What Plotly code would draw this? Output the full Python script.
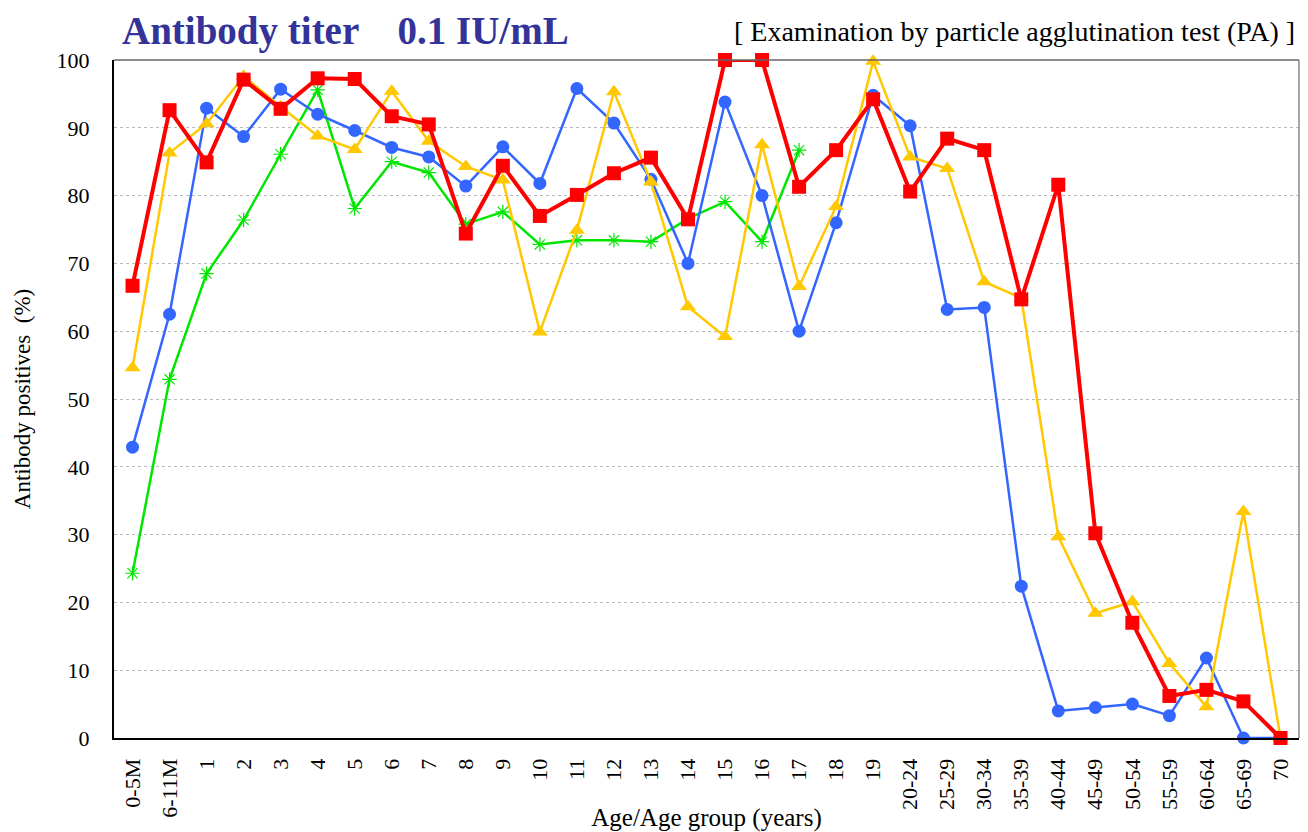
import plotly.graph_objects as go

categories = ["0-5M", "6-11M", "1", "2", "3", "4", "5", "6", "7", "8", "9", "10",
              "11", "12", "13", "14", "15", "16", "17", "18", "19",
              "20-24", "25-29", "30-34", "35-39", "40-44", "45-49", "50-54",
              "55-59", "60-64", "65-69", "70"]

series_green = [24.3, 52.9, 68.5, 76.4, 86.1, 95.6, 78.1, 85.0, 83.4, 75.8, 77.6,
                72.8, 73.4, 73.4, 73.2, 76.6, 79.1, 73.2, 86.7]

series_blue = [42.9, 62.5, 92.9, 88.7, 95.7, 92.0, 89.6, 87.1, 85.7, 81.4, 87.2,
               81.8, 95.8, 90.7, 82.4, 70.0, 93.8, 80.0, 60.0, 76.0, 94.8,
               90.3, 63.2, 63.5, 22.4, 4.0, 4.5, 5.0, 3.3, 11.8, 0.0, 0.0]

series_yellow = [54.6, 86.3, 90.6, 97.6, 93.1, 88.8, 86.8, 95.4, 88.0, 84.3, 82.3,
                 59.9, 74.9, 95.3, 82.0, 63.6, 59.2, 87.5, 66.6, 78.4, 99.8,
                 85.7, 84.0, 67.3, 64.9, 29.7, 18.4, 20.1, 11.0, 4.6, 33.4, 0.0]

series_red = [66.7, 92.6, 84.9, 97.1, 92.8, 97.3, 97.2, 91.7, 90.5, 74.4, 84.4,
              77.0, 80.1, 83.3, 85.6, 76.5, 100.0, 100.0, 81.3, 86.7, 94.2,
              80.6, 88.4, 86.7, 64.7, 81.6, 30.2, 17.0, 6.2, 7.1, 5.4, 0.0]

y_ticks = [0, 10, 20, 30, 40, 50, 60, 70, 80, 90, 100]

FONT = "Liberation Serif, Times New Roman, serif"

fig = go.Figure()

fig.add_trace(go.Scatter(
    x=categories[:len(series_green)], y=series_green, mode="lines+markers",
    name="Series A", line=dict(color="#00E600", width=2.5),
    marker=dict(symbol="asterisk-open", size=12, color="#00E600",
                line=dict(color="#66EE66", width=1.2)),
    cliponaxis=False))

fig.add_trace(go.Scatter(
    x=categories, y=series_blue, mode="lines+markers",
    name="Series B", line=dict(color="#3366FF", width=2.5),
    marker=dict(symbol="circle", size=13, color="#3366FF"),
    cliponaxis=False))

fig.add_trace(go.Scatter(
    x=categories, y=series_yellow, mode="lines+markers",
    name="Series C", line=dict(color="#FFC800", width=2.5),
    marker=dict(symbol="triangle-up", size=14, color="#FFC800"),
    cliponaxis=False))

fig.add_trace(go.Scatter(
    x=categories, y=series_red, mode="lines+markers",
    name="Series D", line=dict(color="#FF0000", width=4),
    marker=dict(symbol="square", size=14, color="#FF0000"),
    cliponaxis=False))

fig.update_layout(
    width=1300, height=824,
    margin=dict(l=106, r=9, t=52, b=94, autoexpand=False),
    paper_bgcolor="white", plot_bgcolor="white",
    showlegend=False,
    font=dict(family=FONT, color="black", size=22),
    xaxis=dict(
        type="category", categoryorder="array", categoryarray=categories,
        range=[-0.5, len(categories) - 0.5],
        tickangle=-90, tickfont=dict(family=FONT, size=22, color="black"),
        ticklabelstandoff=10,
        showgrid=False, showline=True, linecolor="black", linewidth=2,
        ticks="", zeroline=False, automargin=False,
        title=dict(text="Age/Age group (years)", font=dict(family=FONT, size=25),
                   standoff=0),
    ),
    yaxis=dict(
        range=[0, 100], tickvals=y_ticks,
        tickfont=dict(family=FONT, size=22, color="black"),
        ticklabelstandoff=18,
        showgrid=True, gridcolor="#BBBBBB", griddash="dot", gridwidth=1,
        showline=True, linecolor="black", linewidth=2, ticks="",
        zeroline=False, automargin=False,
        title=dict(text="Antibody positives  (%)", font=dict(family=FONT, size=23),
                   standoff=20),
    ),
    shapes=[
        dict(type="line", xref="paper", yref="paper", x0=0, x1=1, y0=1, y1=1,
             line=dict(color="#666666", width=1.5)),
        dict(type="line", xref="paper", yref="paper", x0=1, x1=1, y0=0, y1=1,
             line=dict(color="#888888", width=1.5)),
    ],
    annotations=[
        dict(text="<b>Antibody titer    0.1 IU/mL</b>", xref="paper", yref="paper",
             x=0, y=1.0, xanchor="left", yanchor="bottom", xshift=6, yshift=5,
             showarrow=False,
             font=dict(family=FONT, size=39, color="#333399")),
        dict(text="[ Examination by particle agglutination test (PA) ]",
             xref="paper", yref="paper", x=1.0, y=1.0, xanchor="right",
             yanchor="bottom", yshift=11, xshift=-2, showarrow=False,
             font=dict(family=FONT, size=28, color="black")),
    ],
)

fig.write_html("out.html")
